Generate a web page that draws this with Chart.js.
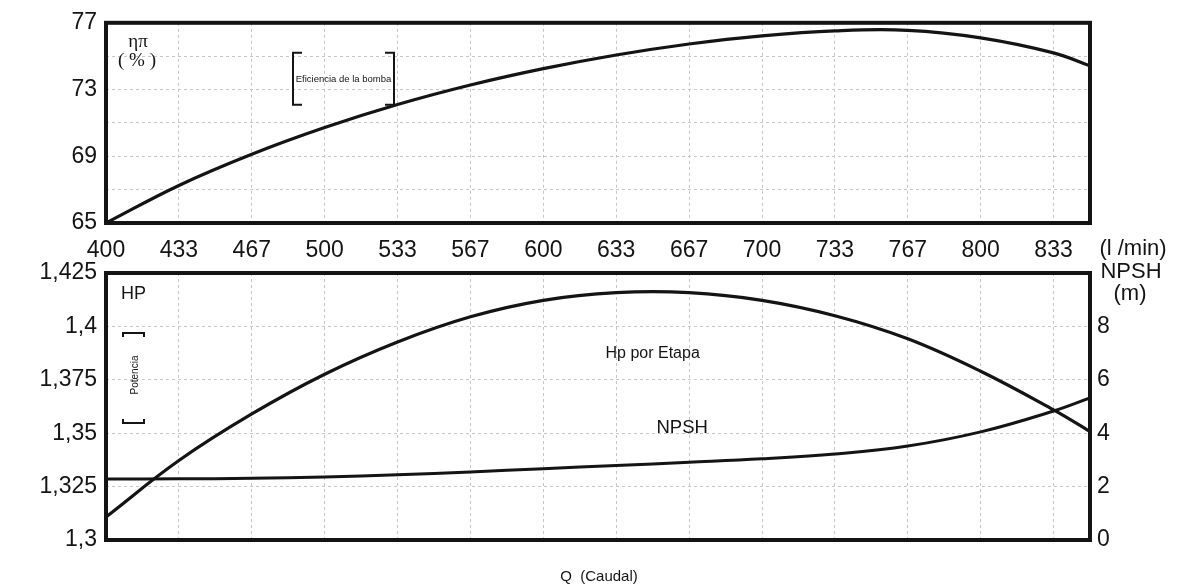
<!DOCTYPE html>
<html>
<head>
<meta charset="utf-8">
<script src="https://cdn.jsdelivr.net/npm/chart.js@4.4.1/dist/chart.umd.min.js"></script>
<style>
  html, body { margin: 0; padding: 0; background: #fff; }
  #wrap { position: relative; width: 1186px; height: 587px; }
  #wrap canvas { position: absolute; left: 0; top: 0; }
</style>
</head>
<body>
<div id="wrap">
  <canvas id="effCanvas" width="1186" height="587"></canvas>
  <canvas id="hpCanvas" width="1186" height="587"></canvas>
</div>
<script>
// Flow rate (l/min) where the curves are sampled
const caudal = [400, 433.33, 466.67, 500, 533.33, 566.67, 600, 633.33, 666.67, 700, 733.33, 766.67, 800, 833.33, 850];
// Pump efficiency (%)
const eficiencia = [65, 67.25, 69.12, 70.72, 72.1, 73.27, 74.25, 75.07, 75.73, 76.22, 76.52, 76.55, 76.1, 75.2, 74.42];
// Power per stage (HP)
const hpEtapa = [1.3108, 1.3372, 1.359, 1.3776, 1.3927, 1.4045, 1.4122, 1.4158, 1.4158, 1.4122, 1.405, 1.3942, 1.379, 1.3609, 1.3508];
// NPSH required (m)
const npsh = [2.28, 2.29, 2.31, 2.36, 2.44, 2.55, 2.67, 2.79, 2.91, 3.04, 3.22, 3.52, 4.05, 4.83, 5.32];

// Axis ticks
const caudalTicks = [400, 433.33, 466.67, 500, 533.33, 566.67, 600, 633.33, 666.67, 700, 733.33, 766.67, 800, 833.33];
const effTicks = [65, 67, 69, 71, 73, 75, 77];
const effTickLabels = [65, 69, 73, 77];
const hpTicks = [1.3, 1.325, 1.35, 1.375, 1.4, 1.425];
const npshTicks = [0, 2, 4, 6, 8];
const npshTickLabels = [0, 2, 4, 6, 8];

const SANS = "'Liberation Sans', Arial, Helvetica, sans-serif";
const SERIF = "'Liberation Serif', 'Times New Roman', serif";
const INK = '#141414';
const GRID = '#c6c6c6';
const TICK_SIZE = 23;

Chart.defaults.font.family = SANS;
Chart.defaults.color = INK;

const pts = (ys) => caudal.map((x, i) => ({ x, y: ys[i] }));
const setTicks = (vals) => (scale) => { scale.ticks = vals.map(v => ({ value: v })); };

const gridOpts = { color: GRID, lineWidth: 1, drawTicks: false };
const dashed = { display: false, dash: [3, 3] };
const curve = { borderColor: INK, pointRadius: 0, tension: 0.4, fill: false };

// heavy frame round each plot area
const frame = {
  id: 'frame',
  afterDraw(chart) {
    const { ctx, chartArea: a } = chart;
    ctx.save();
    ctx.strokeStyle = INK;
    ctx.lineWidth = 4;
    ctx.strokeRect(a.left, a.top, a.right - a.left, a.bottom - a.top);
    ctx.restore();
  }
};

function bracketV(ctx, x, y1, y2, dir) {
  ctx.beginPath();
  ctx.moveTo(x + dir * 9, y1);
  ctx.lineTo(x, y1);
  ctx.lineTo(x, y2);
  ctx.lineTo(x + dir * 9, y2);
  ctx.stroke();
}
function bracketH(ctx, x1, x2, y, dir) {
  ctx.beginPath();
  ctx.moveTo(x1, y + dir * 4);
  ctx.lineTo(x1, y);
  ctx.lineTo(x2, y);
  ctx.lineTo(x2, y + dir * 4);
  ctx.stroke();
}

// labels of the efficiency panel
const effNotes = {
  id: 'effNotes',
  afterDraw(chart) {
    const { ctx, chartArea: a } = chart;
    ctx.save();
    ctx.fillStyle = INK;
    ctx.strokeStyle = INK;
    ctx.textAlign = 'center';
    ctx.textBaseline = 'middle';
    ctx.font = '19px ' + SERIF;
    ctx.fillText('ηπ', a.left + 32, a.top + 19);
    ctx.fillText('( % )', a.left + 31, a.top + 38);

    ctx.lineWidth = 2;
    bracketV(ctx, a.left + 187, a.top + 30, a.top + 82, 1);
    bracketV(ctx, a.left + 288, a.top + 30, a.top + 82, -1);
    ctx.font = '9.5px ' + SANS;
    ctx.fillText('Eficiencia de la bomba', a.left + 237.5, a.top + 57);

    ctx.font = '22px ' + SANS;
    ctx.fillText('(l /min)', a.right + 43, a.bottom + 26);
    ctx.restore();
  }
};

// labels of the power / NPSH panel
const hpNotes = {
  id: 'hpNotes',
  afterDraw(chart) {
    const { ctx, chartArea: a, scales } = chart;
    ctx.save();
    ctx.fillStyle = INK;
    ctx.strokeStyle = INK;
    ctx.textBaseline = 'middle';

    ctx.textAlign = 'left';
    ctx.font = '18px ' + SANS;
    ctx.fillText('HP', a.left + 15, a.top + 21);

    ctx.lineWidth = 2;
    bracketH(ctx, a.left + 17, a.left + 38, a.top + 60, 1);
    bracketH(ctx, a.left + 17, a.left + 38, a.top + 150, -1);
    ctx.save();
    ctx.translate(a.left + 29, a.top + 102);
    ctx.rotate(-Math.PI / 2);
    ctx.textAlign = 'center';
    ctx.font = '10px ' + SANS;
    ctx.fillText('Potencia', 0, 0);
    ctx.restore();

    ctx.textAlign = 'center';
    ctx.font = '16px ' + SANS;
    ctx.fillText('Hp por Etapa', scales.x.getPixelForValue(650), scales.y.getPixelForValue(1.3871));
    ctx.font = '18.5px ' + SANS;
    ctx.fillText('NPSH', scales.x.getPixelForValue(663.5), scales.y.getPixelForValue(1.3527));

    ctx.font = '22px ' + SANS;
    ctx.fillText('NPSH', a.right + 41, a.top - 1);
    ctx.fillText('(m)', a.right + 40, a.top + 21);

    ctx.font = '15px ' + SANS;
    ctx.fillText('Q  (Caudal)', (a.left + a.right) / 2 + 1, a.bottom + 37);
    ctx.restore();
  }
};

new Chart(document.getElementById('effCanvas'), {
  type: 'line',
  data: {
    datasets: [Object.assign({ label: 'Eficiencia de la bomba', data: pts(eficiencia), borderWidth: 3.2 }, curve)]
  },
  options: {
    responsive: false,
    animation: false,
    devicePixelRatio: 1,
    layout: { padding: { top: 21, right: 96, bottom: 322, left: 0 } },
    plugins: { legend: { display: false }, tooltip: { enabled: false } },
    scales: {
      x: {
        type: 'linear', min: 400, max: 850,
        afterBuildTicks: setTicks(caudalTicks),
        afterFit: (s) => { s.height = 42; },
        grid: gridOpts, border: dashed,
        ticks: { padding: 14, maxRotation: 0, autoSkip: false, font: { size: TICK_SIZE }, callback: (v) => String(Math.round(v)) }
      },
      y: {
        min: 65, max: 77,
        afterBuildTicks: setTicks(effTicks),
        afterFit: (s) => { s.width = 106; },
        grid: gridOpts, border: dashed,
        ticks: { padding: 9, autoSkip: false, font: { size: TICK_SIZE }, callback: (v) => effTickLabels.includes(v) ? String(v) : '' }
      }
    }
  },
  plugins: [frame, effNotes]
});

new Chart(document.getElementById('hpCanvas'), {
  type: 'line',
  data: {
    datasets: [
      Object.assign({ label: 'Hp por Etapa', data: pts(hpEtapa), yAxisID: 'y', borderWidth: 3.2 }, curve),
      Object.assign({ label: 'NPSH', data: pts(npsh), yAxisID: 'y1', borderWidth: 3 }, curve)
    ]
  },
  options: {
    responsive: false,
    animation: false,
    devicePixelRatio: 1,
    layout: { padding: { top: 273, right: 0, bottom: 0, left: 0 } },
    plugins: { legend: { display: false }, tooltip: { enabled: false } },
    scales: {
      x: {
        type: 'linear', min: 400, max: 850,
        afterBuildTicks: setTicks(caudalTicks),
        afterFit: (s) => { s.height = 47; },
        grid: gridOpts, border: dashed,
        ticks: { display: false }
      },
      y: {
        position: 'left', min: 1.3, max: 1.425,
        afterBuildTicks: setTicks(hpTicks),
        afterFit: (s) => { s.width = 106; },
        grid: gridOpts, border: dashed,
        ticks: { padding: 9, autoSkip: false, font: { size: TICK_SIZE }, callback: (v) => String(v).replace('.', ',') }
      },
      y1: {
        position: 'right', min: 0, max: 10,
        afterBuildTicks: setTicks(npshTicks),
        afterFit: (s) => { s.width = 96; },
        grid: { display: false, drawTicks: false }, border: { display: false },
        ticks: { padding: 7, autoSkip: false, font: { size: TICK_SIZE }, callback: (v) => npshTickLabels.includes(v) ? String(v) : '' }
      }
    }
  },
  plugins: [frame, hpNotes]
});
</script>
</body>
</html>
